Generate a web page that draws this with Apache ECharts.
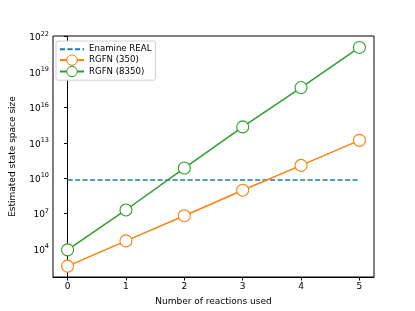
<!DOCTYPE html>
<html>
<head>
<meta charset="utf-8">
<script src="https://cdn.jsdelivr.net/npm/echarts@6/dist/echarts.min.js"></script>
<style>html,body{margin:0;padding:0;background:#fff}#c{width:415px;height:311px}</style>
</head>
<body>
<div id="c"></div>
<script>
const reactions = [0, 1, 2, 3, 4, 5];
const enamineReal = 6.9e9;
const rgfn350 = [350, 4.8e4, 6.5e6, 9.5e8, 1.2e11, 1.6e13];
const rgfn8350 = [8350, 2.0e7, 7.2e10, 2.2e14, 4.8e17, 1.2e21];
const yTicks = [1e4, 1e7, 1e10, 1e13, 1e16, 1e19, 1e22];
const xTicks = [0, 1, 2, 3, 4, 5];

const FONT = 'DejaVu Sans';
const chart = echarts.init(document.getElementById('c'), null, {renderer: 'canvas'});
function markerStyle(c) { return {color: '#fff', borderColor: c, borderWidth: 1.1}; }
chart.setOption({
  animation: false,
  textStyle: {fontFamily: FONT},
  grid: {left: 52, right: 41, top: 36, bottom: 34, show: true, borderColor: '#000', borderWidth: 1},
  legend: {
    orient: 'vertical', left: 56, top: 41, itemWidth: 24, itemHeight: 13, itemGap: 0,
    backgroundColor: '#fff', borderColor: '#d0d0d0', borderWidth: 1, borderRadius: 2,
    padding: [3, 4, 3, 3],
    itemStyle: {borderWidth: 1},
    textStyle: {fontFamily: FONT, fontSize: 8.6, color: '#000'},
    data: ['Enamine REAL', 'RGFN (350)', 'RGFN (8350)']
  },
  xAxis: {
    type: 'value', min: -0.25, max: 5.25,
    name: 'Number of reactions used', nameLocation: 'middle', nameGap: 20,
    nameTextStyle: {fontFamily: FONT, fontSize: 9, color: '#000'},
    axisLine: {show: true, onZero: false, lineStyle: {color: '#000', width: 1}},
    axisTick: {show: true, length: 3.5, customValues: xTicks, lineStyle: {color: '#000'}},
    axisLabel: {customValues: xTicks, fontFamily: FONT, fontSize: 9, color: '#000', margin: 5},
    splitLine: {show: false}
  },
  yAxis: {
    type: 'log', logBase: 10, min: Math.pow(10, 1.62), max: Math.pow(10, 22.05),
    name: 'Estimated state space size', nameLocation: 'middle', nameGap: 36,
    nameTextStyle: {fontFamily: FONT, fontSize: 9, color: '#000'},
    axisLine: {show: true, lineStyle: {color: '#000', width: 1}},
    axisTick: {show: true, length: 3.5, customValues: yTicks, lineStyle: {color: '#000'}},
    axisLabel: {
      customValues: yTicks, fontFamily: FONT, fontSize: 9, color: '#000', margin: 4,
      formatter: function (v) { return '{b|10}{s|' + Math.round(Math.log10(v)) + '}'; },
      rich: {
        b: {fontFamily: FONT, fontSize: 9, color: '#000', verticalAlign: 'bottom', lineHeight: 12},
        s: {fontFamily: FONT, fontSize: 6.5, color: '#000', verticalAlign: 'top', lineHeight: 12, padding: [0, 0, 5, 0]}
      }
    },
    splitLine: {show: false}
  },
  series: [
    {
      name: 'Enamine REAL', type: 'line', showSymbol: false, symbol: 'none',
      color: '#1f77b4', itemStyle: {color: '#1f77b4', opacity: 0},
      lineStyle: {color: '#1f77b4', width: 1.5, type: [5, 2.5]},
      data: [[reactions[0], enamineReal], [reactions[reactions.length - 1], enamineReal]]
    },
    {
      name: 'RGFN (350)', type: 'line', color: '#ff7f0e',
      symbol: 'circle', symbolSize: 12, itemStyle: markerStyle('#ff7f0e'),
      lineStyle: {color: '#ff7f0e', width: 1.5},
      data: reactions.map((x, i) => [x, rgfn350[i]])
    },
    {
      name: 'RGFN (8350)', type: 'line', color: '#2ca02c',
      symbol: 'circle', symbolSize: 12, itemStyle: markerStyle('#2ca02c'),
      lineStyle: {color: '#2ca02c', width: 1.5},
      data: reactions.map((x, i) => [x, rgfn8350[i]])
    }
  ]
});
</script>
</body>
</html>
